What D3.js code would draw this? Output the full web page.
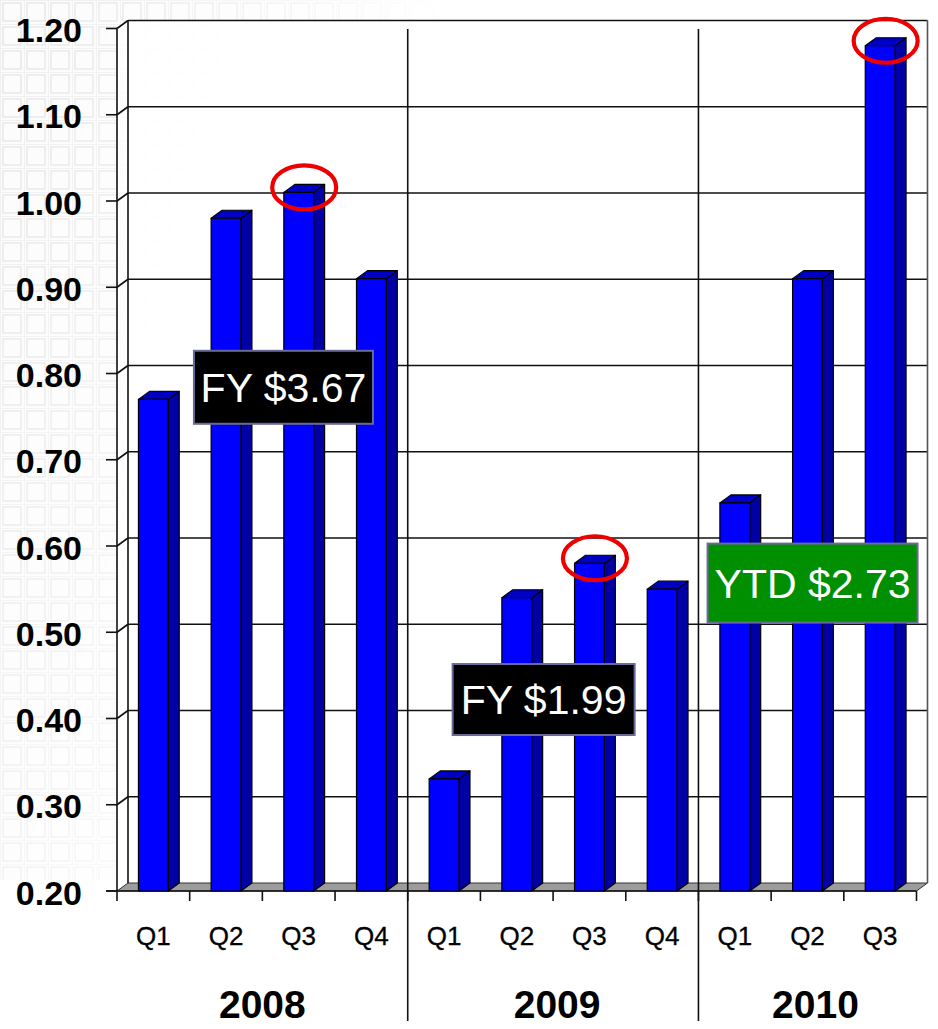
<!DOCTYPE html>
<html>
<head>
<meta charset="utf-8">
<script src="https://cdn.jsdelivr.net/npm/d3@7"></script>
<style>
  html, body { margin:0; padding:0; background:#fff; }
  svg { display:block; font-family:"Liberation Sans", Arial, sans-serif; }
</style>
</head>
<body>
<div id="chart"></div>
<script>
// donnees
var years = ["2008", "2009", "2010"];
var quarters = ["Q1","Q2","Q3","Q4","Q1","Q2","Q3","Q4","Q1","Q2","Q3"];
var quarterYear = ["2008","2008","2008","2008","2009","2009","2009","2009","2010","2010","2010"];
var eps = [0.77, 0.98, 1.01, 0.91, 0.33, 0.54, 0.58, 0.55, 0.65, 0.91, 1.18];
var yTicks = [0.20, 0.30, 0.40, 0.50, 0.60, 0.70, 0.80, 0.90, 1.00, 1.10, 1.20];
var circled = [2, 6, 10];           // trimestres entoures en rouge
var totals = ["FY $3.67", "FY $1.99", "YTD $2.73"];

function chart(params){

  var width = 938,
      height = 1029,
      anchor = params.anchor || "#chart",
      svg = d3.select(anchor).append("svg")
        .attr("width", width).attr("height", height);

  // effet 3D : decalage de la paroi du fond
  var dx = 11, dy = -8;

  var x = d3.scaleBand()
    .domain(d3.range(quarters.length))
    .range([117, 916.5]);

  var y = d3.scaleLinear()
    .domain([0.2, 1.2])
    .range([891, 28.5]);

  var bw = x.step() * 0.41;
  var x0 = x.range()[0], x1 = x.range()[1];

  // fond quadrille pale (a gauche)
  var defs = svg.append("defs");
  var pat = defs.append("pattern")
    .attr("id", "grille").attr("patternUnits", "userSpaceOnUse")
    .attr("width", 24).attr("height", 24);
  pat.append("rect").attr("width", 24).attr("height", 24).attr("fill", "#fcfcfc");
  pat.append("rect").attr("x", 3).attr("y", 3).attr("width", 18).attr("height", 18)
    .attr("fill", "none").attr("stroke", "#e2e2e2").attr("stroke-width", 1.2);
  pat.append("path").attr("d", "M0,0.5H24M0.5,0V24")
    .attr("stroke", "#f0f0f0").attr("stroke-width", 1);

  var grad = defs.append("linearGradient").attr("id", "fondu")
    .attr("x1", 0).attr("x2", 1).attr("y1", 0).attr("y2", 0.3);
  grad.append("stop").attr("offset", 0).attr("stop-color", "#fff");
  grad.append("stop").attr("offset", 0.14).attr("stop-color", "#ccc");
  grad.append("stop").attr("offset", 0.45).attr("stop-color", "#000");
  defs.append("mask").attr("id", "masque")
    .append("rect").attr("width", width).attr("height", height).attr("fill", "url(#fondu)");

  svg.append("rect").attr("width", width).attr("height", 880)
    .attr("fill", "url(#grille)").attr("mask", "url(#masque)");

  // paroi du fond et paroi gauche
  var top = y(1.2), bot = y(0.2);
  svg.append("rect")
    .attr("x", x0 + dx).attr("y", top + dy)
    .attr("width", x1 - x0).attr("height", bot - top)
    .attr("fill", "#fff").attr("fill-opacity", 0.9);
  svg.append("path")
    .attr("d", "M" + x0 + "," + top + "L" + (x0 + dx) + "," + (top + dy) +
      "V" + (bot + dy) + "L" + x0 + "," + bot + "Z")
    .attr("fill", "#fff").attr("fill-opacity", 0.8);

  // sol gris
  svg.append("path")
    .attr("d", "M" + x0 + "," + bot + "L" + x1 + "," + bot +
      "L" + (x1 + dx) + "," + (bot + dy) + "L" + (x0 + dx) + "," + (bot + dy) + "Z")
    .attr("fill", "#9c9c9c").attr("stroke", "#333").attr("stroke-width", 1);

  // lignes de quadrillage sur le fond + diagonales sur la paroi gauche
  var grid = svg.append("g").attr("stroke", "#111").attr("stroke-width", 1.6).attr("fill", "none");
  grid.selectAll("line.h").data(yTicks.slice(1)).enter().append("line")
    .attr("x1", x0 + dx).attr("x2", x1 + dx)
    .attr("y1", function(d){ return y(d) + dy; })
    .attr("y2", function(d){ return y(d) + dy; });
  grid.selectAll("line.d").data(yTicks.slice(1)).enter().append("line")
    .attr("x1", x0).attr("x2", x0 + dx)
    .attr("y1", function(d){ return y(d); })
    .attr("y2", function(d){ return y(d) + dy; });
  grid.append("line").attr("x1", x0).attr("x2", x0).attr("y1", top).attr("y2", bot);
  grid.append("line").attr("x1", x0 + dx).attr("x2", x0 + dx).attr("y1", top + dy).attr("y2", bot + dy);
  grid.append("line").attr("x1", x1 + dx).attr("x2", x1 + dx).attr("y1", top + dy).attr("y2", bot + dy)
    .attr("stroke", "#555");

  // axe Y : graduations et libelles
  var yAxis = svg.append("g");
  yAxis.selectAll("line").data(yTicks).enter().append("line")
    .attr("x1", x0 - 11).attr("x2", x0)
    .attr("y1", function(d){ return y(d); }).attr("y2", function(d){ return y(d); })
    .attr("stroke", "#111").attr("stroke-width", 1.6);
  yAxis.selectAll("text").data(yTicks).enter().append("text")
    .attr("x", 82).attr("y", function(d){ return y(d) + 1.5; })
    .attr("dy", "0.36em").attr("text-anchor", "end")
    .attr("font-size", 34).attr("font-weight", "bold").attr("fill", "#000")
    .text(function(d){ return d3.format(".2f")(d); });

  // axe X : graduations
  var xt = d3.range(quarters.length + 1).map(function(i){ return x0 + i * x.step(); });
  svg.append("line").attr("x1", x0 - 11).attr("x2", x1).attr("y1", bot).attr("y2", bot)
    .attr("stroke", "#111").attr("stroke-width", 1.6);
  svg.append("g").selectAll("line").data(xt).enter().append("line")
    .attr("x1", function(d){ return d; }).attr("x2", function(d){ return d; })
    .attr("y1", bot).attr("y2", bot + 10)
    .attr("stroke", "#111").attr("stroke-width", 1.6);

  // barres 3D
  var bars = svg.append("g").selectAll("g").data(eps).enter().append("g")
    .attr("stroke", "#000").attr("stroke-width", 1.2).attr("stroke-linejoin", "round");
  bars.append("path")   // cote
    .attr("fill", "#0000a4")
    .attr("d", function(d, i){
      var xr = x(i) + (x.step() + bw) / 2, yt = y(d);
      return "M" + xr + "," + yt + "L" + (xr + dx) + "," + (yt + dy) +
        "V" + (bot + dy) + "L" + xr + "," + bot + "Z";
    });
  bars.append("path")   // dessus
    .attr("fill", "#0000c4")
    .attr("d", function(d, i){
      var xl = x(i) + (x.step() - bw) / 2, yt = y(d);
      return "M" + xl + "," + yt + "L" + (xl + dx) + "," + (yt + dy) +
        "H" + (xl + bw + dx) + "L" + (xl + bw) + "," + yt + "Z";
    });
  bars.append("rect")   // face
    .attr("fill", "#0000ff")
    .attr("x", function(d, i){ return x(i) + (x.step() - bw) / 2; })
    .attr("y", function(d){ return y(d); })
    .attr("width", bw)
    .attr("height", function(d){ return bot - y(d); });

  // libelles trimestres
  svg.append("g").selectAll("text").data(quarters).enter().append("text")
    .attr("x", function(d, i){ return x(i) + x.step() / 2; })
    .attr("y", 945)
    .attr("text-anchor", "middle").attr("font-size", 26).attr("fill", "#000")
    .attr("stroke", "#000").attr("stroke-width", 0.3)
    .text(function(d){ return d; });

  // separateurs d'annees et libelles des annees
  var groups = years.map(function(yr){
    var idx = d3.range(quarters.length).filter(function(i){ return quarterYear[i] === yr; });
    return { year: yr, start: x(idx[0]), end: x(idx[idx.length - 1]) + x.step() };
  });
  svg.append("g").selectAll("line").data(groups.slice(1)).enter().append("line")
    .attr("x1", function(g){ return g.start; }).attr("x2", function(g){ return g.start; })
    .attr("y1", 29).attr("y2", 1021)
    .attr("stroke", "#111").attr("stroke-width", 1.6);
  svg.append("g").selectAll("text").data(groups).enter().append("text")
    .attr("x", function(g, i){ return (g.start + g.end) / 2 + i * 4; })
    .attr("y", 1018)
    .attr("text-anchor", "middle").attr("font-size", 39).attr("font-weight", "bold")
    .attr("fill", "#000")
    .text(function(g){ return g.year; });

  // cercles rouges sur les records
  svg.append("g").selectAll("ellipse").data(circled).enter().append("ellipse")
    .attr("cx", function(i){ return x(i) + x.step() / 2 + dx / 2; })
    .attr("cy", function(i){ return y(eps[i]) - 5; })
    .attr("rx", 32).attr("ry", 22)
    .attr("fill", "none").attr("stroke", "#ee0000").attr("stroke-width", 4.2);

  // encadres des totaux (position en unites de trimestre / valeur)
  var boxPlace = [
    { pos: 2.29, val: 0.784, w: 179, h: 73, fill: "#000" },
    { pos: 5.87, val: 0.422, w: 182, h: 71, fill: "#000" },
    { pos: 9.57, val: 0.557, w: 210, h: 79, fill: "#008f00" }
  ];
  var boxes = svg.append("g").selectAll("g").data(totals).enter().append("g")
    .attr("transform", function(d, i){
      var b = boxPlace[i];
      return "translate(" + (x0 + b.pos * x.step()) + "," + y(b.val) + ")";
    });
  boxes.append("rect")
    .attr("x", function(d, i){ return -boxPlace[i].w / 2; })
    .attr("y", function(d, i){ return -boxPlace[i].h / 2; })
    .attr("width", function(d, i){ return boxPlace[i].w; })
    .attr("height", function(d, i){ return boxPlace[i].h; })
    .attr("fill", function(d, i){ return boxPlace[i].fill; })
    .attr("stroke", "#6a6a98").attr("stroke-width", 2);
  boxes.append("text")
    .attr("text-anchor", "middle").attr("dy", "0.36em")
    .attr("font-size", 41).attr("fill", "#fff")
    .text(function(d){ return d; });

  function exports(){};
  return exports;
}

chart({ anchor: "#chart" });
</script>
</body>
</html>
